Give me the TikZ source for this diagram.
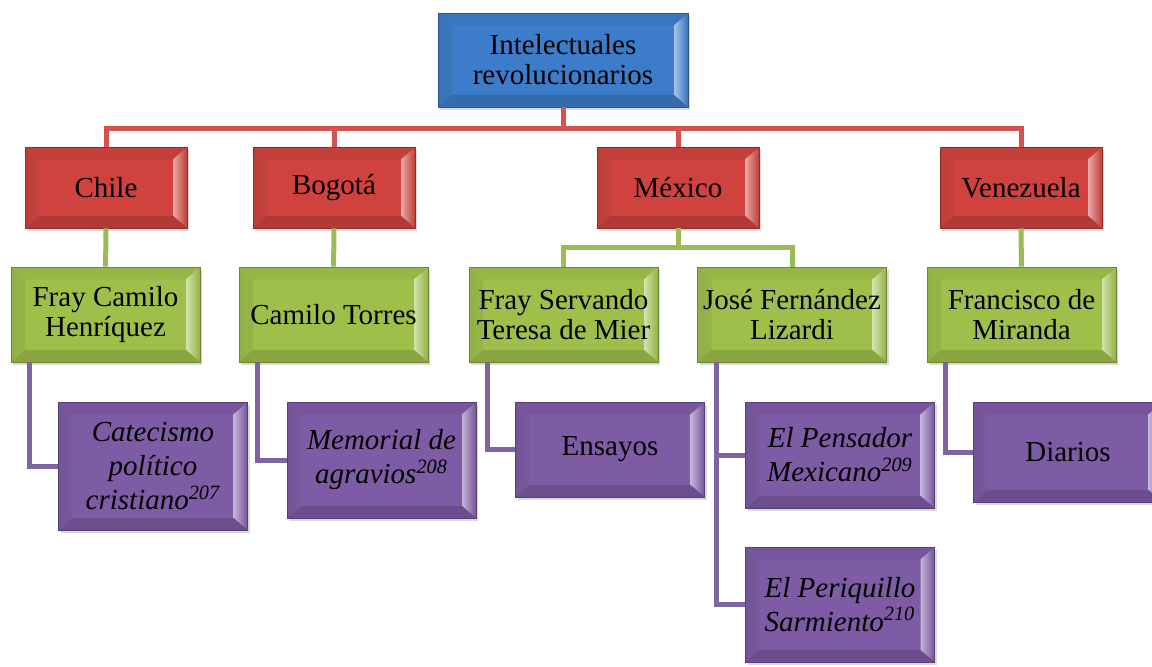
\documentclass[tikz,border=0pt]{standalone}
\usepackage{fontspec}
\setmainfont{Liberation Serif}
\usetikzlibrary{shadows}
\definecolor{rootcol}{HTML}{3D7CC9}
\definecolor{citycol}{HTML}{CF423D}
\definecolor{authcol}{HTML}{9EC04A}
\definecolor{workcol}{HTML}{7E5BA5}
\definecolor{citylink}{HTML}{D8514E}
\definecolor{authlink}{HTML}{9BBB59}
\definecolor{worklink}{HTML}{8064A2}

\begin{document}
\begin{tikzpicture}[
   x=0.5pt, y=-0.5pt,
   font=\fontsize{14.5pt}{15pt}\selectfont,
   box/.style={draw=#1!70!black,fill=#1,line width=0.4pt,align=center,inner sep=2pt,
               drop shadow={shadow xshift=1pt,shadow yshift=-1.6pt,opacity=.3},
               path picture={
                 \shade[left color=#1!92!black,right color=#1!60!white]
                   (path picture bounding box.south west) -- (path picture bounding box.north west)
                   -- ([shift={(7pt,-6pt)}]path picture bounding box.north west)
                   -- ([shift={(7pt,6pt)}]path picture bounding box.south west) -- cycle;
                 \shade[left color=#1!45!white,right color=#1!92!black]
                   (path picture bounding box.south east) -- (path picture bounding box.north east)
                   -- ([shift={(-7pt,-6pt)}]path picture bounding box.north east)
                   -- ([shift={(-7pt,6pt)}]path picture bounding box.south east) -- cycle;
                 \fill[#1!95!black]
                   (path picture bounding box.north west) -- (path picture bounding box.north east)
                   -- ([shift={(-7pt,-6pt)}]path picture bounding box.north east)
                   -- ([shift={(7pt,-6pt)}]path picture bounding box.north west) -- cycle;
                 \fill[#1!86!black]
                   (path picture bounding box.south west) -- (path picture bounding box.south east)
                   -- ([shift={(-7pt,6pt)}]path picture bounding box.south east)
                   -- ([shift={(7pt,6pt)}]path picture bounding box.south west) -- cycle;
               }},
   rootbox/.style={box=rootcol,minimum width=125pt,minimum height=47pt},
   citybox/.style={box=citycol,minimum width=81pt,minimum height=40.5pt},
   authbox/.style={box=authcol,minimum width=94.5pt,minimum height=47.5pt},
   workbox/.style={box=workcol,minimum width=94.5pt,minimum height=#1,
                   font=\fontsize{14.5pt}{17pt}\selectfont\itshape},
   link/.style={line width=2.5pt,draw=#1},
]
\useasboundingbox (0,0) rectangle (1152,666);

% level 0 and 1
\node[rootbox] (root) at (563,60) {Intelectuales\\revolucionarios};
\node[citybox] (chile)  at (106,187.5)  {Chile};
\node[citybox] (bogota) at (334,187.5)  {Bogotá};
\node[citybox] (mexico) at (678,187.5)  {México};
\node[citybox] (venez)  at (1021,187.5) {Venezuela};

% authors
\node[authbox] (fcam)  at (105.5,314.5) {Fray Camilo\\Henríquez};
\node[authbox] (ctor)  at (333.5,314.5) {Camilo Torres};
\node[authbox] (fserv) at (563.5,314.5) {Fray Servando\\Teresa de Mier};
\node[authbox] (jose)  at (792,314.5)   {José Fernández\\Lizardi};
\node[authbox] (fmir)  at (1021.5,314.5) {Francisco de\\Miranda};

% works
\node[workbox=64pt]   (catec) at (153,466)   {Catecismo\\político\\cristiano\textsuperscript{207}};
\node[workbox=58pt]   (memo)  at (381.5,460) {Memorial de\\agravios\textsuperscript{208}};
\node[workbox=47.5pt] (ensay) at (610,449.5) {\upshape Ensayos};
\node[workbox=53pt]   (pens)  at (840,455)   {El Pensador\\Mexicano\textsuperscript{209}};
\node[workbox=57.5pt] (peri)  at (840,604.5) {El Periquillo\\Sarmiento\textsuperscript{210}};
\node[workbox=50pt]   (diar)  at (1068,452)  {\upshape Diarios};

% red links
\foreach \c in {chile,bogota,mexico,venez}
  \draw[link=citylink] (root.south) -- ++(0,21) -| (\c.north);

% green links
\draw[link=authlink] (chile) -- (fcam);
\draw[link=authlink] (bogota) -- (ctor);
\draw[link=authlink] (venez) -- (fmir);
\draw[link=authlink] (mexico.south) -- ++(0,19) -| (fserv.north);
\draw[link=authlink] (mexico.south) -- ++(0,19) -| (jose.north);

% purple links
\draw[link=worklink] ([xshift=9.5pt]fcam.south west)  |- (catec.west);
\draw[link=worklink] ([xshift=9.5pt]ctor.south west)  |- (memo.west);
\draw[link=worklink] ([xshift=9.5pt]fserv.south west) |- (ensay.west);
\draw[link=worklink] ([xshift=9.5pt]jose.south west)  |- (pens.west);
\draw[link=worklink] ([xshift=9.5pt]jose.south west)  |- (peri.west);
\draw[link=worklink] ([xshift=9.5pt]fmir.south west)  |- (diar.west);

\end{tikzpicture}
\end{document}
